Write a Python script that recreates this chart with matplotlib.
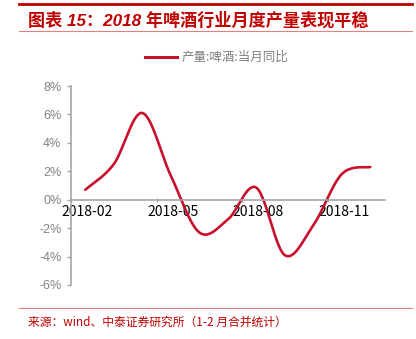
import numpy as np
import matplotlib.pyplot as plt
from matplotlib.lines import Line2D

plt.rcParams['font.family'] = ['Noto Sans CJK SC', 'DejaVu Sans']
plt.rcParams['axes.unicode_minus'] = False

months = ['2018-02', '2018-03', '2018-04', '2018-05', '2018-06', '2018-07',
          '2018-08', '2018-09', '2018-10', '2018-11', '2018-12']
yoy = [0.7, 2.5, 6.1, 1.7, -2.3, -1.4, 0.85, -3.9, -1.8, 1.8, 2.3]
yticks = [-6, -4, -2, 0, 2, 4, 6, 8]

RED = '#C00000'
LINE = '#C8102E'
GREY = '#808080'
AXIS = '#A6A6A6'


def smooth(xs, ys, n=40):
    # bezier smoothing through every point, like a spreadsheet's "smoothed line"
    pts = np.column_stack([xs, ys]).astype(float)
    padded = np.vstack([pts[0], pts, pts[-1]])
    t = np.linspace(0, 1, n)[:, None]
    out = []
    for i in range(len(pts) - 1):
        p0, p1, p2, p3 = padded[i:i + 4]
        c1 = p1 + (p2 - p0) / 6
        c2 = p2 - (p3 - p1) / 6
        seg = (1 - t) ** 3 * p1 + 3 * (1 - t) ** 2 * t * c1 + 3 * (1 - t) * t ** 2 * c2 + t ** 3 * p2
        out.append(seg if i == 0 else seg[1:])
    return np.vstack(out)


fig = plt.figure(figsize=(4.16, 3.39), dpi=100)
ax = fig.add_axes([0.1707, 0.1593, 0.7536, 0.587])

x = np.arange(len(months))
curve = smooth(x, yoy)
ax.plot(curve[:, 0], curve[:, 1], color=LINE, lw=1.9, solid_capstyle='round')

ax.set_xlim(-0.5, len(months) - 0.5)
ax.set_ylim(-6, 8)
ax.set_yticks(yticks)
ax.set_yticklabels([f'{v}%' for v in yticks], fontsize=9, color=GREY,
                   family=['Liberation Sans', 'DejaVu Sans'])

# ticks sit on category boundaries, labels on every third month
ax.set_xticks([-0.5, 2.5, 5.5, 8.5])
ax.set_xticklabels([])
ax.set_xticks(x[::3] + 0.08, minor=True)
ax.set_xticklabels(months[::3], minor=True, fontsize=9, color=GREY,
                   family=['Liberation Sans', 'DejaVu Sans'])
ax.tick_params(axis='x', which='major', length=3, color=AXIS, direction='inout')
ax.tick_params(axis='x', which='minor', length=0, pad=4)
ax.tick_params(axis='y', length=3, color=AXIS, width=1, pad=4)

for side in ['top', 'right']:
    ax.spines[side].set_visible(False)
ax.spines['bottom'].set_position(('data', 0))
for side in ['left', 'bottom']:
    ax.spines[side].set_color(AXIS)
    ax.spines[side].set_linewidth(1.2)

# header and footer
fig.add_artist(Line2D([0.046, 0.99], [0.988, 0.988], color=RED, lw=2.0))
fig.text(0.067, 0.941, '图表 15：2018 年啤酒行业月度产量表现平稳', color=RED,
         fontsize=12.3, fontweight='bold', style='italic', va='center',
         family=['Liberation Sans', 'Noto Sans CJK SC'])
fig.add_artist(Line2D([0.046, 0.99], [0.9086, 0.9086], color='#E08080', lw=0.8))

fig.add_artist(Line2D([0.349, 0.425], [0.832, 0.832], color=LINE, lw=2.2))
fig.text(0.437, 0.832, '产量:啤酒:当月同比', color=GREY, fontsize=9, va='center')

fig.add_artist(Line2D([0.046, 0.99], [0.0914, 0.0914], color='#E08080', lw=0.8))
fig.text(0.067, 0.050, '来源：wind、中泰证券研究所（1-2 月合并统计）', color=RED,
         fontsize=8.5, va='center')

fig.savefig('out.png', dpi=100)
